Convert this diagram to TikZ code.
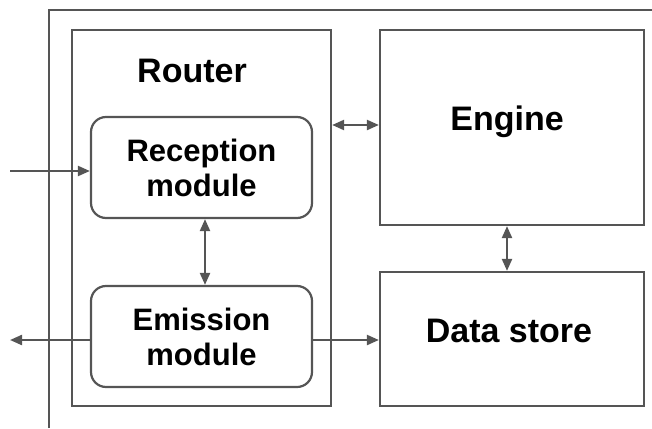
\documentclass[tikz,border=0pt]{standalone}
\usepackage{fontspec}
\setmainfont{Liberation Sans}
\usetikzlibrary{arrows.meta}
\definecolor{linegray}{HTML}{555555}
\begin{document}
\begin{tikzpicture}[x=1pt,y=-1pt,
  box/.style={draw=linegray,line width=2.2pt,rectangle,inner sep=0pt},
  rbox/.style={box,rounded corners=15pt},
  lbl/.style={font=\fontsize{31}{35}\selectfont\bfseries,align=center,text=black},
  hlbl/.style={font=\fontsize{34}{38}\selectfont\bfseries,text=black,anchor=base,inner sep=0pt},
  conn/.style={draw=linegray,line width=2.2pt,-{Triangle[length=12pt,width=10pt]}},
  dconn/.style={draw=linegray,line width=2.2pt,{Triangle[length=12pt,width=10pt]}-{Triangle[length=12pt,width=10pt]}}]
\useasboundingbox (0,0) rectangle (652,428);
% outer frame (partial)
\draw[linegray,line width=2.2pt] (49,428) -- (49,10) -- (652,10);
% nodes
\node[box,minimum width=259pt,minimum height=376pt] (router) at (201.5,218) {};
\node[hlbl] (routerlbl) at (192,82) {Router};
\node[rbox,minimum width=221pt,minimum height=101pt,lbl] (rec) at (201.5,167.5) {Reception\\module};
\node[rbox,minimum width=221pt,minimum height=101pt,lbl] (emi) at (201.5,336.5) {Emission\\module};
\node[box,minimum width=264pt,minimum height=195pt] (eng) at (512,127.5) {};
\node[hlbl] (englbl) at (507,130) {Engine};
\node[box,minimum width=264pt,minimum height=134pt] (ds) at (512,339) {};
\node[hlbl] (dslbl) at (509,342) {Data store};
\coordinate (inS) at (10,171);
\coordinate (outE) at (10,340);
% connectors
\draw[conn] (inS) -- (inS -| rec.west);
\draw[conn] (outE -| emi.west) -- (outE);
\draw[dconn] (rec.south -| 205,0) -- (emi.north -| 205,0);
\draw[dconn] (router.east |- 0,125) -- (eng.west |- 0,125);
\draw[dconn] (eng.south -| 507,0) -- (ds.north -| 507,0);
\draw[conn] (emi.east |- 0,340) -- (ds.west |- 0,340);
\end{tikzpicture}
\end{document}
